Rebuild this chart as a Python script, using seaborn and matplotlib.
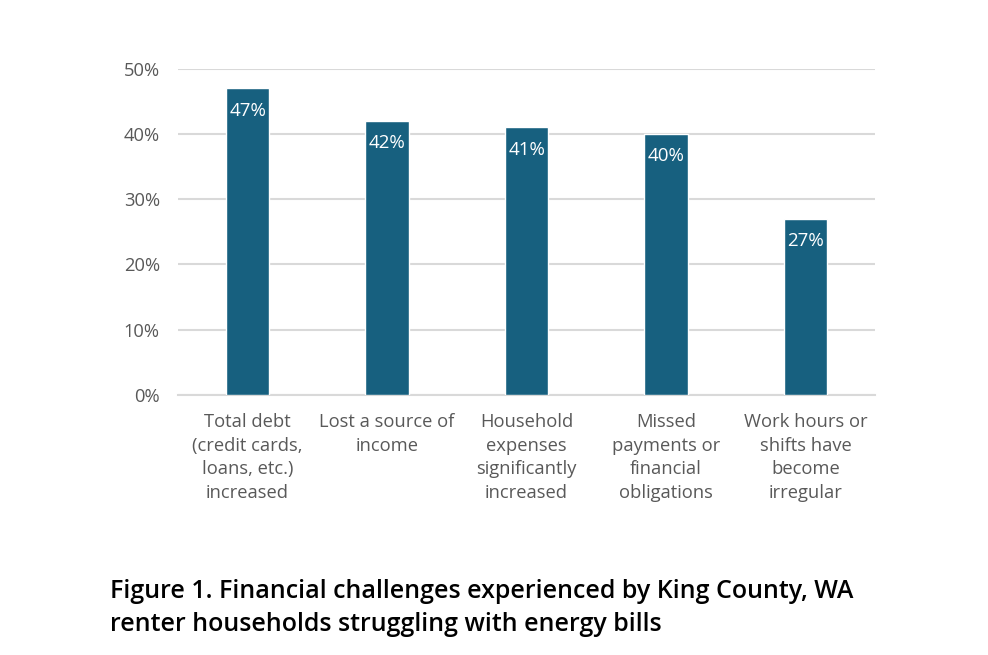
import matplotlib
matplotlib.use('Agg')
import matplotlib.pyplot as plt
import seaborn as sns
import pandas as pd
from matplotlib.ticker import PercentFormatter

categories = [
    'Total debt\n(credit cards,\nloans, etc.)\nincreased',
    'Lost a source of\nincome',
    'Household\nexpenses\nsignificantly\nincreased',
    'Missed\npayments or\nfinancial\nobligations',
    'Work hours or\nshifts have\nbecome\nirregular',
]
values = [0.47, 0.42, 0.41, 0.40, 0.27]
yticks = [0, 0.1, 0.2, 0.3, 0.4, 0.5]

df = pd.DataFrame({'challenge': categories, 'share': values})

sns.set_style('white')
plt.rcParams['font.family'] = ['Open Sans', 'DejaVu Sans']

fig = plt.figure(figsize=(9.88, 6.55), dpi=100)
ax = fig.add_axes([0.180, 0.397, 0.706, 0.498])

sns.barplot(data=df, x='challenge', y='share', color='#17607F', width=0.31,
            saturation=1, ax=ax, zorder=3)

ax.set_ylim(0, 0.5)
ax.set_xlim(-0.5, 4.5)
ax.set_yticks(yticks)
ax.yaxis.set_major_formatter(PercentFormatter(1.0, decimals=0))
ax.grid(axis='y', color='#D9D9D9', linewidth=1.5, zorder=0)
ax.set_axisbelow(True)
for s in ['top', 'right', 'left']:
    ax.spines[s].set_visible(False)
ax.spines['bottom'].set_color('#D9D9D9')
ax.spines['bottom'].set_linewidth(1.5)
ax.tick_params(axis='both', length=0, colors='#595959', labelsize=13.2)
ax.tick_params(axis='y', pad=13)
ax.tick_params(axis='x', pad=13)
ax.set_xlabel('')
ax.set_ylabel('')
for lbl in ax.get_xticklabels():
    lbl.set_linespacing(1.4)

for i, v in enumerate(values):
    ax.text(i, v - 0.034, f'{v:.0%}', ha='center', va='center', color='white',
            fontsize=13.5)

fig.text(0.111, 0.028,
         'Figure 1. Financial challenges experienced by King County, WA\n'
         'renter households struggling with energy bills',
         fontsize=18, fontweight='semibold', color='black',
         ha='left', va='bottom', linespacing=1.42)

fig.savefig('out.png', dpi=100, facecolor='white')
